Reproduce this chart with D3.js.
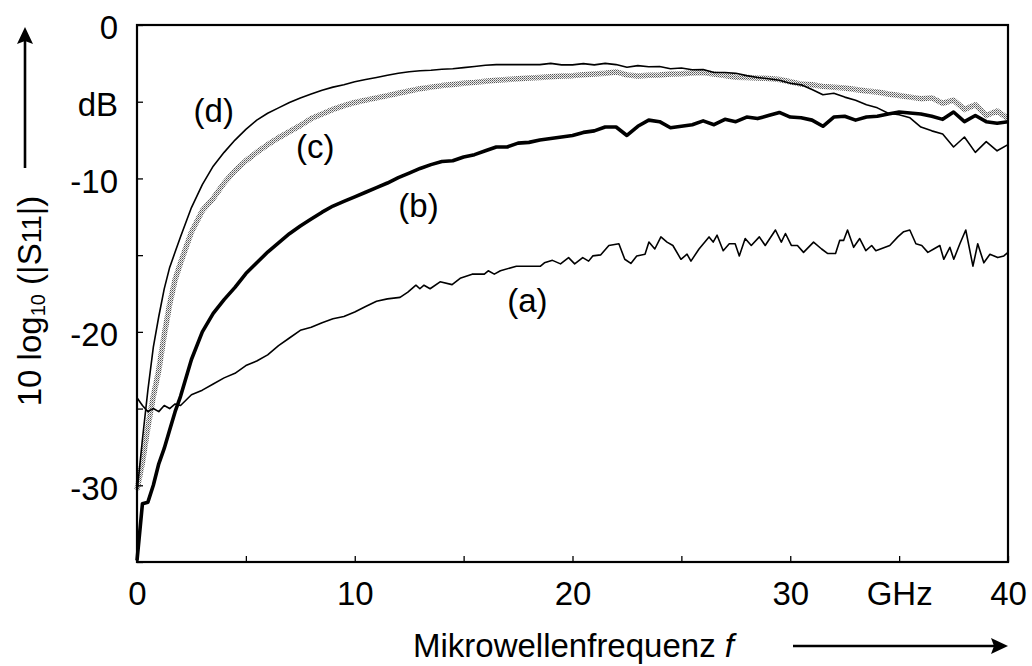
<!DOCTYPE html>
<html>
<head>
<meta charset="utf-8">
<script src="https://cdn.jsdelivr.net/npm/d3@7"></script>
<style>
  body { margin: 0; background: #fff; }
  svg text { font-family: "Liberation Sans", Arial, sans-serif; font-size: 33px; fill: #000; }
</style>
</head>
<body>
<svg id="canvas" width="1032" height="666"></svg>
<script>
// frequency grid in GHz (finer below 2 GHz where the curves rise fast)
var freq = [0, 0.25, 0.5, 0.75, 1, 1.25, 1.5, 1.75, 2,
  2.5, 3, 3.5, 4, 4.5, 5, 5.5, 6, 6.5, 7,
  7.5, 8, 8.5, 9, 9.5, 10, 10.5, 11, 11.5, 12,
  12.5, 13, 13.5, 14, 14.5, 15, 15.5, 16, 16.5, 17,
  17.5, 18, 18.5, 19, 19.5, 20, 20.5, 21, 21.5, 22,
  22.5, 23, 23.5, 24, 24.5, 25, 25.5, 26, 26.5, 27,
  27.5, 28, 28.5, 29, 29.5, 30, 30.5, 31, 31.5, 32,
  32.5, 33, 33.5, 34, 34.5, 35, 35.5, 36, 36.5, 37,
  37.5, 38, 38.5, 39, 39.5, 40];

// curve (a) is noisier, so it is read at its own (denser) frequencies
var freqA = [0, 0.25, 0.5, 0.75, 1, 1.25, 1.5, 1.75, 2,
  2.5, 3, 3.5, 4, 4.5, 5, 5.5, 6, 6.5, 7,
  7.5, 8, 8.5, 9, 9.5, 10, 10.5, 11, 11.5,
  12.08, 12.44, 12.81, 12.99, 13.18, 13.46, 13.92, 14.47, 14.84, 15.39,
  15.95, 16.13, 16.41, 16.69, 17.42, 18.53, 18.71, 19.08, 19.45, 19.82,
  20.10, 20.47, 20.74, 20.93, 21.30, 21.67, 22.13, 22.40, 22.68, 22.95,
  23.33, 23.51, 23.78, 24.06, 24.34, 24.61, 24.98, 25.26, 25.44, 25.81,
  26.27, 26.46, 26.64, 26.92, 27.20, 27.47, 27.66, 27.93, 28.21, 28.58,
  28.85, 29.32, 29.59, 29.78, 30.05, 30.33, 30.61, 31.07, 31.44, 31.71,
  32.08, 32.27, 32.45, 32.63, 32.91, 33.19, 33.47, 33.74, 33.93, 34.57,
  34.94, 35.21, 35.49, 35.77, 36.04, 36.32, 36.59, 36.87, 37.05, 37.33,
  37.51, 37.79, 38.06, 38.39, 38.61, 38.89, 39.17, 39.53, 39.81, 40];

// 10 log10(|S11|) in dB
var curveA = [-24.3, -24.8, -25.2, -25.0, -25.2, -24.8, -25.0, -24.7, -24.8,
  -24.1, -23.8, -23.4, -23.0, -22.7, -22.2, -21.9, -21.5, -20.9, -20.4,
  -19.9, -19.7, -19.4, -19.15, -19.0, -18.7, -18.35, -18.0, -17.85,
  -17.75, -17.41, -16.96, -17.19, -16.96, -17.19, -16.74, -16.92, -16.51, -16.24,
  -16.24, -16.02, -16.24, -16.02, -15.72, -15.72, -15.5, -15.34, -15.57, -15.16,
  -15.57, -15.16, -15.39, -15.05, -14.98, -14.37, -14.26, -15.27, -15.54, -15.05,
  -14.94, -14.15, -14.6, -13.81, -14.15, -14.37, -15.27, -14.94, -15.39, -14.6,
  -13.81, -14.15, -13.7, -14.71, -14.26, -14.26, -15.05, -13.92, -14.37, -13.81,
  -14.37, -13.36, -14.15, -13.59, -14.37, -14.37, -14.82, -14.15, -14.6, -14.89,
  -14.89, -14.04, -14.04, -13.36, -14.49, -13.92, -14.71, -14.37, -14.71, -14.37,
  -13.81, -13.47, -13.36, -14.26, -14.37, -14.82, -14.6, -14.37, -15.27, -14.49,
  -15.27, -14.26, -13.36, -15.72, -14.26, -15.5, -14.94, -15.16, -15.05, -14.82];

var curveB = [-34.9, -31.2, -31.1, -30.0, -28.6, -27.6, -26.4, -25.2, -24.2,
  -21.8, -20.0, -18.8, -17.9, -17.1, -16.2, -15.5, -14.8, -14.2, -13.6,
  -13.1, -12.65, -12.2, -11.8, -11.5, -11.2, -10.9, -10.6, -10.3, -9.95,
  -9.65, -9.35, -9.1, -8.9, -8.85, -8.6, -8.45, -8.2, -7.95, -7.95,
  -7.7, -7.65, -7.5, -7.4, -7.3, -7.2, -7.0, -6.9, -6.65, -6.65,
  -7.2, -6.6, -6.2, -6.3, -6.7, -6.6, -6.5, -6.25, -6.5, -6.15,
  -6.3, -6.0, -6.1, -5.9, -5.7, -6.0, -6.05, -6.2, -6.6, -6.0,
  -5.95, -6.2, -6.0, -5.95, -5.8, -5.67, -5.74, -5.8, -5.95, -6.15,
  -5.67, -6.3, -5.9, -6.3, -6.4, -6.3];

var curveC = [-30.3, -28.5, -26.2, -24.2, -22.5, -20.2, -18.2, -16.6, -15.5,
  -13.5, -12.1, -11.3, -10.3, -9.5, -8.85, -8.3, -7.8, -7.35, -6.95,
  -6.55, -6.1, -5.8, -5.5, -5.25, -5.05, -4.9, -4.75, -4.6, -4.45,
  -4.3, -4.15, -4.05, -3.95, -3.88, -3.8, -3.74, -3.66, -3.6, -3.55,
  -3.5, -3.45, -3.42, -3.38, -3.33, -3.3, -3.25, -3.2, -3.15, -3.06,
  -3.25, -3.33, -3.28, -3.26, -3.2, -3.18, -3.13, -3.1, -3.2, -3.3,
  -3.4, -3.42, -3.45, -3.48, -3.55, -3.7, -3.85, -3.9, -4.0, -4.05,
  -4.1, -4.2, -4.3, -4.37, -4.5, -4.6, -4.7, -4.8, -4.75, -5.1,
  -4.9, -5.5, -5.2, -5.9, -5.6, -6.1];

var curveD = [-30.5, -27.0, -23.8, -21.0, -19.0, -17.2, -15.8, -14.8, -13.8,
  -11.9, -10.4, -9.2, -8.3, -7.5, -6.8, -6.2, -5.75, -5.4, -5.05,
  -4.76, -4.5, -4.25, -4.05, -3.9, -3.7, -3.55, -3.42, -3.28, -3.15,
  -3.05, -2.98, -2.95, -2.88, -2.85, -2.78, -2.7, -2.62, -2.58, -2.58,
  -2.58, -2.58, -2.58, -2.5, -2.6, -2.6, -2.52, -2.6, -2.5, -2.58,
  -2.75, -2.65, -2.72, -2.7, -2.85, -2.8, -2.92, -2.9, -3.1, -3.1,
  -3.15, -3.3, -3.42, -3.5, -3.6, -3.8, -3.9, -4.2, -4.55, -4.45,
  -4.7, -4.9, -5.2, -5.4, -5.75, -5.85, -6.05, -6.65, -6.9, -7.1,
  -7.95, -7.3, -8.3, -7.6, -8.2, -7.8];

var xTicks = [0, 5, 10, 15, 20, 25, 30, 35, 40];
var xTickLabels = ["0", "", "10", "", "20", "", "30", "GHz", "40"];
var yTicks = [0, -5, -10, -15, -20, -25, -30, -35];
var yTickLabels = ["0", "dB", "-10", "", "-20", "", "-30", ""];

(function() {
  var svg = d3.select("#canvas");
  var x = d3.scaleLinear().domain([0, 40]).range([137, 1008]);
  var y = d3.scaleLinear().domain([-35, 0]).range([562, 25]);

  // stipple pattern for curve (c)
  var pat = svg.append("defs").append("pattern")
    .attr("id", "stip").attr("patternUnits", "userSpaceOnUse")
    .attr("width", 2).attr("height", 2);
  pat.append("rect").attr("width", 2).attr("height", 2).attr("fill", "#eeeeee");
  pat.append("rect").attr("width", 1).attr("height", 1).attr("fill", "#555");
  pat.append("rect").attr("x", 1).attr("y", 1).attr("width", 1).attr("height", 1).attr("fill", "#8a8a8a");

  var line = function(fs, vals) {
    return d3.line().x(function(d, i) { return x(fs[i]); }).y(function(d) { return y(d); })(vals);
  };

  svg.append("path").attr("d", line(freq, curveC))
    .attr("fill", "none").attr("stroke", "url(#stip)").attr("stroke-width", 5.5)
    .attr("stroke-linejoin", "round");
  svg.append("path").attr("d", line(freq, curveD))
    .attr("fill", "none").attr("stroke", "#000").attr("stroke-width", 1.6)
    .attr("stroke-linejoin", "round");
  svg.append("path").attr("d", line(freq, curveB))
    .attr("fill", "none").attr("stroke", "#000").attr("stroke-width", 3.6)
    .attr("stroke-linejoin", "round");
  svg.append("path").attr("d", line(freqA, curveA))
    .attr("fill", "none").attr("stroke", "#000").attr("stroke-width", 1.6)
    .attr("stroke-linejoin", "round");

  // axes, ticks pointing inward
  var yAxis = d3.axisLeft(y).tickValues(yTicks)
    .tickSizeInner(-6).tickSizeOuter(0).tickPadding(19)
    .tickFormat(function(d, i) { return yTickLabels[i]; });
  var gy = svg.append("g").attr("transform", "translate(137,0)").call(yAxis);
  gy.select(".domain").remove();
  gy.selectAll("text").attr("dy", "0.42em").attr("font-size", null).attr("font-family", null);
  gy.selectAll("line").attr("stroke-width", 1.3);

  var xAxis = d3.axisBottom(x).tickValues(xTicks)
    .tickSizeInner(-6).tickSizeOuter(0).tickPadding(20)
    .tickFormat(function(d, i) { return xTickLabels[i]; });
  var gx = svg.append("g").attr("transform", "translate(0,562)").call(xAxis);
  gx.select(".domain").remove();
  gx.selectAll("text").attr("font-size", null).attr("font-family", null);
  gx.selectAll("line").attr("stroke-width", 1.3);

  // frame
  svg.append("rect").attr("x", 137).attr("y", 25).attr("width", 871).attr("height", 537)
    .attr("fill", "none").attr("stroke", "#000").attr("stroke-width", 2.2);

  // curve labels
  svg.append("text").attr("x", x(2.6)).attr("y", y(-6.3)).text("(d)");
  svg.append("text").attr("x", x(7.3)).attr("y", y(-8.7)).text("(c)");
  svg.append("text").attr("x", x(12.0)).attr("y", y(-12.5)).text("(b)");
  svg.append("text").attr("x", x(17.0)).attr("y", y(-18.7)).text("(a)");

  // y title with arrow
  var yt = svg.append("text").attr("transform", "translate(41,301) rotate(-90)")
    .attr("text-anchor", "middle");
  yt.append("tspan").text("10 log");
  yt.append("tspan").attr("font-size", "20px").attr("dy", "4").text("10");
  yt.append("tspan").attr("dy", "-4").text(" (|S");
  yt.append("tspan").attr("font-size", "27px").text("11");
  yt.append("tspan").text("|)");

  svg.append("line").attr("x1", 25).attr("y1", 168).attr("x2", 25).attr("y2", 40)
    .attr("stroke", "#000").attr("stroke-width", 2.6);
  svg.append("path").attr("d", "M25,27 L33,44 L25,41 L17,44 Z").attr("fill", "#000");

  // x title with arrow
  var xt = svg.append("text").attr("x", 413).attr("y", 657);
  xt.append("tspan").text("Mikrowellenfrequenz ");
  xt.append("tspan").attr("font-style", "italic").text(" f");

  svg.append("line").attr("x1", 793).attr("y1", 646).attr("x2", 995).attr("y2", 646)
    .attr("stroke", "#000").attr("stroke-width", 2.6);
  svg.append("path").attr("d", "M1008,646 L991,638 L994,646 L991,654 Z").attr("fill", "#000");
})();
</script>
</body>
</html>
